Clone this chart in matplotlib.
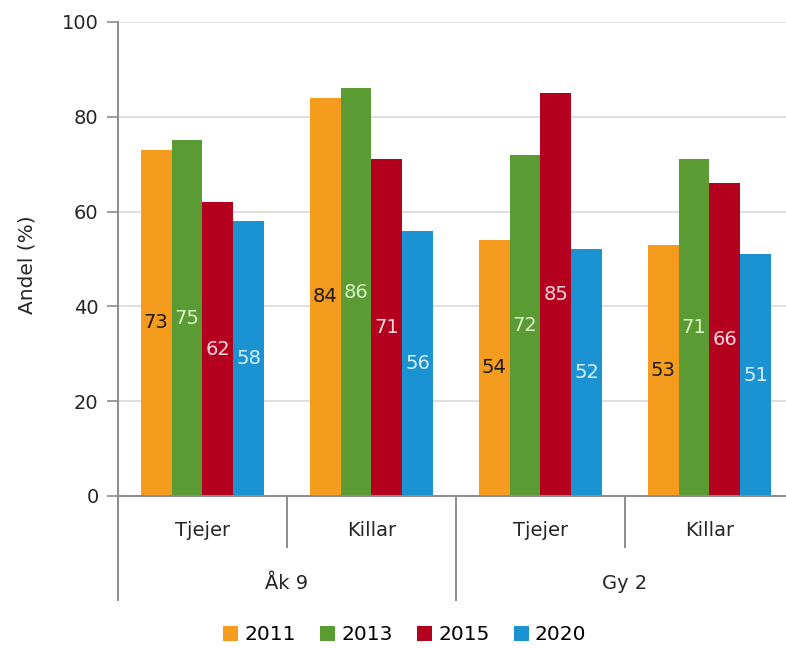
import matplotlib.pyplot as plt
import numpy as np
from matplotlib.patches import Patch

# Data
groups = ["Tjejer", "Killar", "Tjejer", "Killar"]
outer_groups = ["Åk 9", "Gy 2"]
years = ["2011", "2013", "2015", "2020"]
vals_2011 = [73, 84, 54, 53]
vals_2013 = [75, 86, 72, 71]
vals_2015 = [62, 71, 85, 66]
vals_2020 = [58, 56, 52, 51]

bar_colors = ["#F59B1E", "#5A9B33", "#B4001E", "#1B92D2"]
label_colors = ["#1a1a1a", "#DDF3C8", "#FAD6DE", "#D6EFFB"]
GRAY = "#8c8c8c"
TXT = "#262626"

plt.rcParams["font.family"] = ["DejaVu Sans"]

fig = plt.figure(figsize=(7.86, 6.48), dpi=100)
ax = fig.add_axes([0.1501, 0.2346, 0.860, 0.7315])

series = [vals_2011, vals_2013, vals_2015, vals_2020]
x = np.arange(len(groups)) + 0.5
bar_w = 0.183
for i, (vals, col, lcol) in enumerate(zip(series, bar_colors, label_colors)):
    pos = x + (i - 1.5) * bar_w
    ax.bar(pos, vals, width=bar_w, color=col, zorder=2)
    # value label centred in the bar
    for p, v in zip(pos, vals):
        ax.text(p, v / 2, f"{v}", ha="center", va="center",
                fontsize=14, color=lcol, zorder=3)

ax.set_xlim(0, 4)
ax.set_ylim(0, 100)
ax.set_yticks(range(0, 101, 20))
ax.set_xticks([])
ax.yaxis.grid(True, color="#d9d9d9", linewidth=1.2, zorder=0)
ax.set_axisbelow(True)
ax.tick_params(axis="y", direction="out", length=8, width=1.2,
               color=GRAY, labelsize=14, pad=6, labelcolor=TXT)
for side in ["top", "right"]:
    ax.spines[side].set_visible(False)
for side in ["left", "bottom"]:
    ax.spines[side].set_color(GRAY)
    ax.spines[side].set_linewidth(1.4)
ax.set_ylabel("Andel (%)", fontsize=14.5, color=TXT)
ax.yaxis.set_label_coords(-0.12, 0.487)

# Hierarchical x labels
trans = ax.get_xaxis_transform()
for xi, name in zip(x, groups):
    ax.text(xi, -0.072, name, transform=trans, ha="center", va="center",
            fontsize=14, color=TXT)
for j, name in enumerate(outer_groups):
    ax.text(2 * j + 1, -0.184, name, transform=trans, ha="center",
            va="center", fontsize=14, color=TXT)
for xs in [0, 2, 4]:
    ax.plot([xs, xs], [0, -0.219], transform=trans, color=GRAY,
            linewidth=1.4, clip_on=False)
for xs in [1, 3]:
    ax.plot([xs, xs], [0, -0.108], transform=trans, color=GRAY,
            linewidth=1.4, clip_on=False)

# Legend
handles = [Patch(facecolor=c, edgecolor="none") for c in bar_colors]
fig.legend(handles, years, loc="center",
           bbox_to_anchor=(0.515, 1 - 635 / 648),
           bbox_transform=fig.transFigure,
           ncol=4, frameon=False, fontsize=14.5, handlelength=0.75,
           handleheight=0.75, handletextpad=0.3, columnspacing=1.2)

fig.savefig("out.png", dpi=100)
